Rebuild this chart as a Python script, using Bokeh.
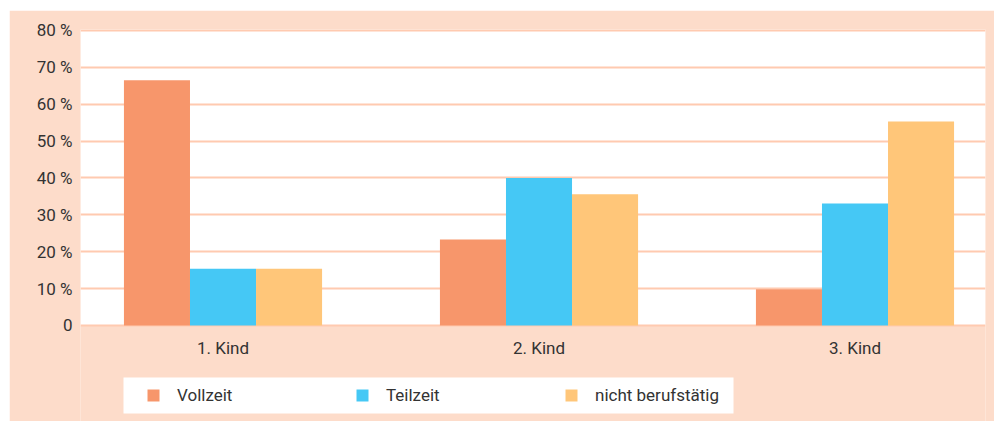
import numpy as np
from bokeh.plotting import figure
from bokeh.models import (Range1d, FixedTicker, Legend, LegendItem, ColumnDataSource,
                          BoxAnnotation)
from bokeh.embed import file_html
from bokeh.resources import INLINE

# ---- data ----
categories = ["1. Kind", "2. Kind", "3. Kind"]
series_names = ["Vollzeit", "Teilzeit", "nicht berufstätig"]
vollzeit = [66.5, 23.3, 9.8]
teilzeit = [15.4, 40.0, 33.1]
nicht_berufstaetig = [15.4, 35.6, 55.3]
y_ticks = [0, 10, 20, 30, 40, 50, 60, 70, 80]
y_tick_labels = ["0", "10 %", "20 %", "30 %", "40 %", "50 %", "60 %", "70 %", "80 %"]

# ---- style ----
BG = "#FDDCCA"
GRID = "#FFCAB0"
COLORS = ["#F7966B", "#45C8F5", "#FFC679"]
TEXT = "#333333"
FONT = "Roboto"
FSIZE = "17px"
BAR_W = 0.209

p = figure(width=985, height=411, output_backend="svg", toolbar_location=None,
           x_range=Range1d(-0.451, 2.413), y_range=Range1d(-26.04, 80.27),
           min_border_left=71, min_border_right=9, min_border_top=19, min_border_bottom=0)
p.margin = (10, 0, 0, 9)
p.border_fill_color = BG
p.background_fill_color = BG
p.outline_line_color = None

# white plotting area (from 0 up to the top of the frame)
p.add_layout(BoxAnnotation(bottom=0, fill_color="white", fill_alpha=1.0,
                           line_color=None, level="image"))
# white legend panel (screen units, relative to the frame's bottom-left corner)
p.add_layout(BoxAnnotation(left=43, right=653, bottom=8, top=44,
                           left_units="screen", right_units="screen",
                           bottom_units="screen", top_units="screen",
                           fill_color="white", fill_alpha=1.0, line_color=None,
                           level="underlay"))

xs = np.arange(len(categories))
series = [vollzeit, teilzeit, nicht_berufstaetig]
offsets = [-BAR_W, 0.0, BAR_W]
proxies = []
for vals, off, col in zip(series, offsets, COLORS):
    src = ColumnDataSource(dict(x=xs + off, top=vals))
    p.vbar(x="x", top="top", bottom=0, width=BAR_W, source=src,
           fill_color=col, line_color=None)
    # legend proxy (a NaN point: nothing drawn in the plot, only the legend square)
    proxies.append(p.scatter(x=[np.nan], y=[np.nan], marker="square",
                             fill_color=col, line_color=None))

# grid
p.xgrid.grid_line_color = None
p.ygrid.ticker = FixedTicker(ticks=y_ticks)
p.ygrid.grid_line_color = GRID
p.ygrid.grid_line_width = 2

# axes
p.yaxis.ticker = FixedTicker(ticks=y_ticks)
p.yaxis.major_label_overrides = {t: l for t, l in zip(y_ticks, y_tick_labels)}
p.xaxis.ticker = FixedTicker(ticks=list(xs))
p.xaxis.major_label_overrides = {int(i): c for i, c in zip(xs, categories)}
p.xaxis.fixed_location = 0
for ax in (p.xaxis, p.yaxis):
    ax.axis_line_color = None
    ax.major_tick_line_color = None
    ax.minor_tick_line_color = None
    ax.major_tick_out = 0
    ax.major_tick_in = 0
    ax.minor_tick_out = 0
    ax.major_label_text_font = FONT
    ax.major_label_text_font_size = FSIZE
    ax.major_label_text_color = TEXT
p.yaxis.major_label_standoff = 8
p.xaxis.major_label_standoff = 13

legend = Legend(items=[LegendItem(label=n, renderers=[r]) for n, r in zip(series_names, proxies)],
                orientation="horizontal", location=(58, 11),
                glyph_width=30, glyph_height=30, label_height=30, label_width=134,
                label_standoff=9, spacing=36, padding=0, margin=0,
                background_fill_alpha=0, border_line_color=None,
                label_text_font=FONT, label_text_font_size=FSIZE, label_text_color=TEXT)
p.add_layout(legend)

open("out.html", "w").write(file_html(p, INLINE))
